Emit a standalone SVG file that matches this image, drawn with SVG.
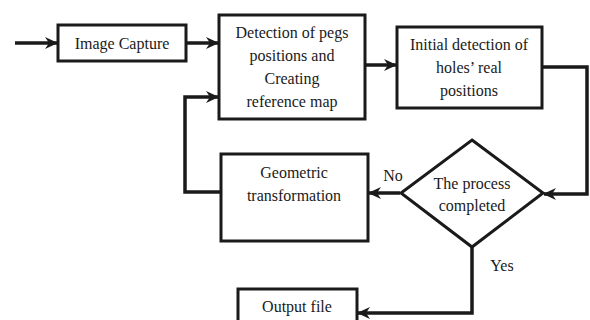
<svg xmlns="http://www.w3.org/2000/svg" width="590" height="320" viewBox="0 0 590 320">
<style>
.box{fill:#fff;stroke:#1a1a1a;stroke-width:3}
.t{font-family:"Liberation Serif","Times New Roman",serif;font-size:16px;fill:#1a1a1a;text-anchor:middle}
.c{fill:none;stroke:#1a1a1a;stroke-width:3.5}
</style>
<defs>
<marker id="ah" markerWidth="14" markerHeight="14" refX="12" refY="7" orient="auto" markerUnits="userSpaceOnUse">
<path d="M0,1 L13,7 L0,13 L4,7 z" fill="#1a1a1a"/>
</marker>
</defs>
<rect width="590" height="320" fill="#fff"/>
<g id="connectors">
<line class="c" x1="15" y1="43" x2="57" y2="43" marker-end="url(#ah)"/>
<line class="c" x1="186" y1="43" x2="218" y2="43" marker-end="url(#ah)"/>
<line class="c" x1="365" y1="65" x2="396" y2="65" marker-end="url(#ah)"/>
<polyline class="c" points="542,67 587,67 587,194 544,194" marker-end="url(#ah)"/>
<line class="c" x1="400" y1="193" x2="369" y2="193" marker-end="url(#ah)"/>
<polyline class="c" points="221,192 185,192 185,97 218,97" marker-end="url(#ah)"/>
<polyline class="c" points="472,247 472,313 358,313" marker-end="url(#ah)"/>
</g>
<g id="image-capture">
<rect class="box" x="58" y="25" width="128" height="36"/>
<text class="t" x="122" y="49">Image Capture</text>
</g>
<g id="detection">
<rect class="box" x="219" y="15" width="146" height="104"/>
<text class="t" x="292" y="38">Detection of pegs</text>
<text class="t" x="292" y="61">positions and</text>
<text class="t" x="292" y="84">Creating</text>
<text class="t" x="292" y="107">reference map</text>
</g>
<g id="initial">
<rect class="box" x="397" y="27" width="145" height="81"/>
<text class="t" x="469" y="50">Initial detection of</text>
<text class="t" x="469" y="73">holes’ real</text>
<text class="t" x="469" y="96">positions</text>
</g>
<g id="decision">
<polygon class="box" points="472,140 543,193 472,247 401,193"/>
<text class="t" x="472" y="189">The process</text>
<text class="t" x="472" y="211">completed</text>
</g>
<g id="geometric">
<rect class="box" x="221" y="154" width="147" height="87"/>
<text class="t" x="294" y="178">Geometric</text>
<text class="t" x="294" y="201">transformation</text>
</g>
<g id="output">
<rect class="box" x="238" y="289" width="119" height="40"/>
<text class="t" x="297" y="312">Output file</text>
</g>
<g id="labels">
<text class="t" x="393" y="181">No</text>
<text class="t" x="502" y="271">Yes</text>
</g>
</svg>
